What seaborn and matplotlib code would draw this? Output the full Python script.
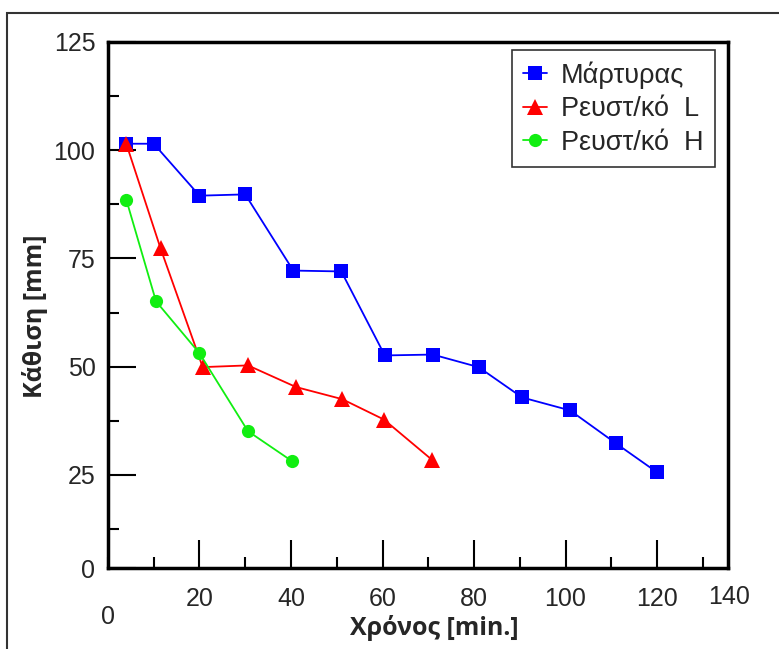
import seaborn as sns
import matplotlib.pyplot as plt
import pandas as pd
from matplotlib.patches import Rectangle
from matplotlib.ticker import MultipleLocator

# δεδομένα (διαβασμένα από το γράφημα)
series_names = ["Μάρτυρας", "Ρευστ/κό  L", "Ρευστ/κό  H"]

t_control = [4, 10, 20, 30, 40.5, 51, 60.5, 71, 81, 90.5, 101, 111, 120]
h_control = [101.5, 101.5, 89.5, 89.8, 72.2, 72.0, 52.6, 52.8, 49.9, 42.9, 39.9, 32.3, 25.6]

t_L = [4, 11.5, 20.7, 30.6, 41.1, 51.2, 60.3, 70.8]
h_L = [101.5, 77.3, 49.9, 50.3, 45.3, 42.5, 37.8, 28.5]

t_H = [4, 10.5, 20, 30.6, 40.2]
h_H = [88.6, 65.1, 53.1, 35.1, 28.2]

x_ticks = [20, 40, 60, 80, 100, 120]
y_ticks = [25, 50, 75, 100, 125]

df = pd.concat([
    pd.DataFrame({"t": t_control, "h": h_control, "series": series_names[0]}),
    pd.DataFrame({"t": t_L, "h": h_L, "series": series_names[1]}),
    pd.DataFrame({"t": t_H, "h": h_H, "series": series_names[2]}),
])

sns.set_style("white")
plt.rcParams['font.family'] = ['Liberation Sans', 'DejaVu Sans']

fig = plt.figure(figsize=(7.79, 6.49), dpi=100)
ax = fig.add_axes([0.1386, 0.1248, 0.7959, 0.8105])

colors = {series_names[0]: "#0000FF", series_names[1]: "#FF0000", series_names[2]: "#11EE11"}
markers = {series_names[0]: "s", series_names[1]: "^", series_names[2]: "o"}
msizes = {series_names[0]: 9.5, series_names[1]: 11, series_names[2]: 9.5}

sns.lineplot(data=df, x="t", y="h", hue="series", style="series", palette=colors,
             markers=markers, dashes=False, sort=False, linewidth=1.3,
             markersize=9.5, markeredgewidth=0, ax=ax)
# μέγεθος marker ανά σειρά
for line, name in zip(ax.lines, series_names):
    line.set_markersize(msizes[name])

xmax = 135.5
ymin = 3.5
ax.set_xlim(0, xmax)
ax.set_ylim(ymin, 125)

# ticks
ax.set_xticks(x_ticks)
ax.set_xticklabels([str(v) for v in x_ticks])
ax.xaxis.set_minor_locator(MultipleLocator(10))
ax.set_yticks([ymin] + y_ticks)
ax.set_yticklabels(["0"] + [str(v) for v in y_ticks])
ax.yaxis.set_minor_locator(MultipleLocator(12.5))
ax.tick_params(which="major", direction="in", length=20, width=1.5, labelsize=18, pad=9, color="black")
ax.tick_params(axis="x", which="major", pad=14)
ax.tick_params(which="minor", direction="in", length=8, width=1.5, color="black")
ax.tick_params(left=True, bottom=True, which="both")

# "0" και "140" στον άξονα x (όπως στο πρωτότυπο)
ax.annotate("0", xy=(0, 0), xycoords="axes fraction", xytext=(0, -35), textcoords="offset points",
            ha="center", va="center", fontsize=18)
ax.annotate("140", xy=(1, 0), xycoords="axes fraction", xytext=(1, -21), textcoords="offset points",
            ha="center", va="center", fontsize=18)

for s in ax.spines.values():
    s.set_linewidth(2.5)
    s.set_color("black")

ax.set_xlabel("Χρόνος [min.]", fontsize=18, fontweight="bold", family=["Open Sans", "DejaVu Sans"])
ax.set_ylabel("Κάθιση [mm]", fontsize=18, fontweight="bold", family=["Open Sans", "DejaVu Sans"])
ax.xaxis.set_label_coords(0.526, -0.09)
ax.yaxis.set_label_coords(-0.097, 0.479)

handles, labels = ax.get_legend_handles_labels()
leg = ax.legend(handles, labels, loc="upper right", bbox_to_anchor=(0.979, 0.985), fontsize=19.5,
                frameon=True, fancybox=False, edgecolor="black", handlelength=0.9,
                handletextpad=0.5, labelspacing=0.28, borderpad=0.42, borderaxespad=0)
leg.get_frame().set_linewidth(1.2)
for h, name in zip(leg.legend_handles, series_names):
    h.set_markersize(msizes[name])

# εξωτερικό πλαίσιο
fig.patches.append(Rectangle((7 / 779, -0.1), 1.2, 1 - 13 / 649 + 0.1, transform=fig.transFigure,
                             fill=False, edgecolor="#333333", linewidth=1.5))

fig.savefig("out.png", dpi=100)
